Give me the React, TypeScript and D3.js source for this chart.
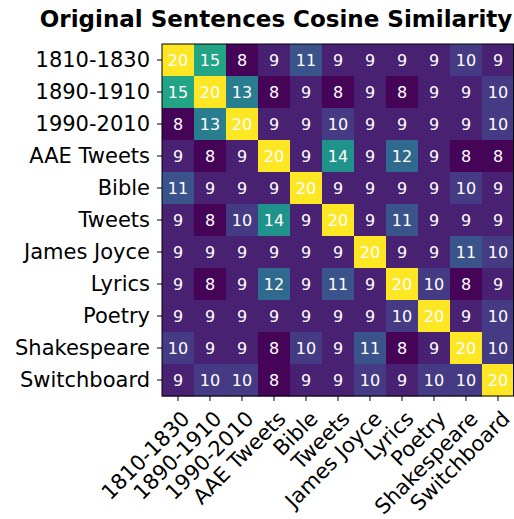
import React, { useEffect, useRef } from "react";
import * as d3 from "d3";

const labels = [
  "1810-1830",
  "1890-1910",
  "1990-2010",
  "AAE Tweets",
  "Bible",
  "Tweets",
  "James Joyce",
  "Lyrics",
  "Poetry",
  "Shakespeare",
  "Switchboard",
];

// rows follow the label order above
const similarity = [
  [20, 15, 8, 9, 11, 9, 9, 9, 9, 10, 9],
  [15, 20, 13, 8, 9, 8, 9, 8, 9, 9, 10],
  [8, 13, 20, 9, 9, 10, 9, 9, 9, 9, 10],
  [9, 8, 9, 20, 9, 14, 9, 12, 9, 8, 8],
  [11, 9, 9, 9, 20, 9, 9, 9, 9, 10, 9],
  [9, 8, 10, 14, 9, 20, 9, 11, 9, 9, 9],
  [9, 9, 9, 9, 9, 9, 20, 9, 9, 11, 10],
  [9, 8, 9, 12, 9, 11, 9, 20, 10, 8, 9],
  [9, 9, 9, 9, 9, 9, 9, 10, 20, 9, 10],
  [10, 9, 9, 8, 10, 9, 11, 8, 9, 20, 10],
  [9, 10, 10, 8, 9, 9, 10, 9, 10, 10, 20],
];

const title = "Original Sentences Cosine Similarity";

const App = () => {
  const svgRef = useRef<SVGSVGElement>(null);

  useEffect(() => {
    const svg = d3.select(svgRef.current);
    svg.selectAll("*").remove();

    const width = 514;
    const height = 519;
    const margin = { top: 44, left: 162, right: 0, bottom: 123 };
    const font = "DejaVu Sans, sans-serif";

    const x = d3
      .scaleBand<string>()
      .domain(labels)
      .range([margin.left, width - margin.right]);
    const y = d3
      .scaleBand<string>()
      .domain(labels)
      .range([margin.top, height - margin.bottom]);

    const color = d3.scaleSequential(d3.interpolateViridis).domain([7.9, 20]);

    const cells = similarity.flatMap((row, i) =>
      row.map((v, j) => ({ row: labels[i], col: labels[j], v }))
    );

    const g = svg.append("g");
    g.selectAll("rect")
      .data(cells)
      .enter()
      .append("rect")
      .attr("x", (d) => x(d.col)!)
      .attr("y", (d) => y(d.row)!)
      .attr("width", x.bandwidth() + 0.5)
      .attr("height", y.bandwidth() + 0.5)
      .attr("fill", (d) => color(d.v));

    g.selectAll("text.val")
      .data(cells)
      .enter()
      .append("text")
      .attr("class", "val")
      .attr("x", (d) => x(d.col)! + x.bandwidth() / 2)
      .attr("y", (d) => y(d.row)! + y.bandwidth() / 2)
      .attr("dy", "0.36em")
      .attr("text-anchor", "middle")
      .attr("fill", "white")
      .style("font-family", font)
      .style("font-size", "16px")
      .text((d) => d.v);

    // frame
    svg
      .append("rect")
      .attr("x", margin.left)
      .attr("y", margin.top)
      .attr("width", width - margin.left - margin.right - 0.5)
      .attr("height", height - margin.bottom - margin.top)
      .attr("fill", "none")
      .attr("stroke", "black")
      .attr("stroke-width", 1);

    // y axis
    const yAxis = svg
      .append("g")
      .attr("transform", `translate(${margin.left},0)`)
      .call(d3.axisLeft(y).tickSize(5).tickPadding(7));
    yAxis.select(".domain").remove();
    yAxis
      .selectAll("text")
      .style("font-family", font)
      .style("font-size", "21px")
      .attr("fill", "black");

    // x axis: labels rotated about their top-right corner
    const bottom = height - margin.bottom;
    const xAxis = svg
      .append("g")
      .attr("transform", `translate(0,${bottom})`)
      .call(d3.axisBottom(x).tickSize(5));
    xAxis.select(".domain").remove();
    xAxis.selectAll("text").remove();

    svg
      .append("g")
      .selectAll("text")
      .data(labels)
      .enter()
      .append("text")
      .attr("transform", (d) => {
        const ax = x(d)! + x.bandwidth() / 2;
        const ay = bottom + 11;
        return `translate(${ax},${ay}) rotate(-45)`;
      })
      .attr("dy", "0.88em")
      .attr("text-anchor", "end")
      .style("font-family", font)
      .style("font-size", "21px")
      .attr("fill", "black")
      .text((d) => d);

    svg
      .append("text")
      .attr("x", 276)
      .attr("y", 27)
      .attr("text-anchor", "middle")
      .style("font-family", font)
      .style("font-size", "23px")
      .style("font-weight", "bold")
      .text(title);
  }, []);

  return (
    <svg
      ref={svgRef}
      width={514}
      height={519}
      style={{ position: "absolute", left: 0, top: 0, background: "white" }}
    />
  );
};

export default App;
